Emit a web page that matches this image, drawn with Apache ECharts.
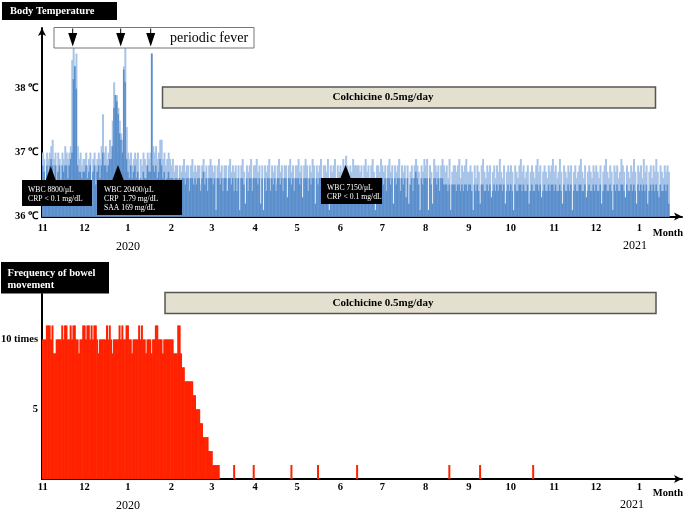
<!DOCTYPE html>
<html><head><meta charset="utf-8">
<script src="https://cdn.jsdelivr.net/npm/echarts@6/dist/echarts.min.js"></script>
<style>html,body{margin:0;padding:0;background:#fff}#c{width:685px;height:511px}</style>
</head><body><div id="c"></div>
<script>
// ---------- axis labels ----------
const monthLabels = ['11','12','1','2','3','4','5','6','7','8','9','10','11','12','1'];
const monthDays   = [30,31,31,29,31,30,31,30,31,31,30,31,30,31,31];
const tempTickLabels  = {36:'36 ℃', 37:'37 ℃', 38:'38 ℃'};
const bowelTickLabels = {5:'5', 10:'10 times'};

// ---------- body temperature (daily max = light, daily min = dark), °C ----------
const tMax_2019_11 = [37.0,36.9,36.2,37.0,36.9,37.0,37.1,37.2,36.9,37.0,36.8,37.0,36.9,36.6,37.0,36.9,37.1,37.0,36.9,37.0,37.1,38.45,38.65,38.35,38.55,37.1,36.9,37.0,36.8,36.9];
const tMin_2019_11 = [36.8,36.7,36.2,36.8,36.6,36.8,36.9,36.8,36.6,36.8,36.5,36.7,36.8,36.4,36.8,36.7,36.8,36.8,36.6,36.8,36.9,37.0,38.15,38.35,38.0,36.8,36.7,36.7,36.6,36.7];
const tMax_2019_12 = [36.9,37.0,36.8,36.9,37.0,36.2,36.9,37.0,36.8,36.9,37.0,36.9,37.1,37.6,37.0,37.1,36.9,37.0,37.2,37.1,37.5,38.1,37.9,37.9,37.7,37.5,37.3,37.2,38.35,38.65,37.4];
const tMin_2019_12 = [36.7,36.8,36.6,36.7,36.8,36.2,36.7,36.8,36.5,36.7,36.8,36.6,36.8,37.0,36.8,36.8,36.7,36.8,36.9,36.9,37.1,37.7,37.9,37.8,37.6,37.3,37.2,37.0,38.3,38.1,36.9];
const tMax_2020_01 = [37.0,36.9,37.0,36.8,36.9,37.0,36.9,37.0,36.3,36.9,36.8,37.0,36.9,36.8,37.0,36.9,37.0,38.55,37.1,37.0,37.1,36.9,37.0,37.2,37.2,36.9,37.0,36.8,36.9,37.0,36.9];
const tMin_2020_01 = [36.7,36.6,36.8,36.6,36.7,36.8,36.6,36.7,36.3,36.6,36.5,36.7,36.6,36.6,36.8,36.7,36.7,38.55,36.8,36.7,36.8,36.6,36.7,36.9,36.8,36.6,36.7,36.5,36.6,36.7,36.6];
const tMax_2020_02 = [36.8,36.9,36.7,36.8,36.8,36.6,36.8,36.7,36.8,36.9,36.7,36.8,36.8,36.6,36.8,36.9,36.7,36.8,36.7,36.8,36.8,36.5,36.8,36.9,36.7,36.8,36.6,36.8,36.9];
const tMin_2020_02 = [36.6,36.6,36.5,36.6,36.6,36.4,36.6,36.5,36.6,36.6,36.5,36.6,36.6,36.4,36.6,36.6,36.5,36.6,36.5,36.6,36.6,36.4,36.6,36.7,36.5,36.6,36.4,36.6,36.6];
const tMax_2020_03 = [36.8,36.7,36.8,36.1,36.8,36.9,36.7,36.8,36.6,36.8,36.8,36.4,36.8,36.9,36.7,36.8,36.7,36.8,36.6,36.8,36.1,36.8,36.9,36.7,36.2,36.8,36.7,36.8,36.9,36.6,36.8];
const tMin_2020_03 = [36.6,36.5,36.6,36.1,36.6,36.6,36.5,36.6,36.4,36.6,36.6,36.4,36.6,36.6,36.5,36.6,36.4,36.6,36.4,36.6,36.1,36.6,36.6,36.5,36.2,36.6,36.4,36.6,36.6,36.4,36.6];
const tMax_2020_04 = [36.8,36.9,36.7,36.8,36.2,36.8,36.1,36.8,36.7,36.8,36.9,36.6,36.8,36.7,36.8,36.5,36.8,36.9,36.7,36.8,36.6,36.8,36.8,36.3,36.8,36.9,36.7,36.8,36.6,36.8];
const tMin_2020_04 = [36.6,36.6,36.5,36.6,36.2,36.6,36.1,36.6,36.4,36.6,36.6,36.4,36.6,36.5,36.6,36.4,36.6,36.6,36.5,36.6,36.4,36.6,36.6,36.3,36.6,36.6,36.5,36.6,36.4,36.6];
const tMax_2020_05 = [36.8,36.9,36.7,36.8,36.3,36.8,36.9,36.8,36.6,36.8,36.7,36.9,36.8,36.2,36.8,36.7,36.8,36.9,36.6,36.8,36.8,36.7,36.9,36.1,36.8,36.7,36.8,36.9,36.6,36.8,36.7];
const tMin_2020_05 = [36.6,36.6,36.5,36.6,36.3,36.6,36.6,36.6,36.4,36.6,36.5,36.6,36.6,36.2,36.6,36.5,36.6,36.6,36.4,36.6,36.6,36.5,36.6,36.1,36.6,36.5,36.6,36.6,36.4,36.6,36.5];
const tMax_2020_06 = [36.8,36.7,36.9,36.8,36.95,36.8,36.2,36.8,36.7,36.9,36.8,36.8,36.8,36.8,36.7,36.8,36.3,36.8,36.9,36.7,36.8,36.6,36.8,36.9,36.7,36.1,36.8,36.8,36.7,36.9];
const tMin_2020_06 = [36.6,36.5,36.6,36.6,36.7,36.6,36.2,36.6,36.5,36.6,36.6,36.6,36.6,36.6,36.5,36.6,36.3,36.6,36.6,36.5,36.6,36.4,36.6,36.6,36.5,36.1,36.6,36.6,36.5,36.6];
const tMax_2020_07 = [36.8,36.7,36.8,36.6,36.8,36.9,36.7,36.8,36.2,36.8,36.7,36.8,36.9,36.6,36.8,36.7,36.8,36.3,36.8,36.2,36.7,36.8,36.6,36.8,36.9,36.8,36.7,36.1,36.8,36.7,36.9];
const tMin_2020_07 = [36.6,36.5,36.6,36.4,36.6,36.6,36.5,36.6,36.2,36.6,36.5,36.6,36.6,36.4,36.6,36.5,36.6,36.3,36.6,36.2,36.5,36.6,36.4,36.6,36.7,36.6,36.5,36.1,36.6,36.5,36.6];
const tMax_2020_08 = [36.8,36.9,36.1,36.8,36.7,36.2,36.9,36.8,36.7,36.8,36.6,36.8,36.9,36.8,36.7,36.8,36.6,36.9,36.1,36.7,36.8,36.8,36.7,36.8,36.9,36.6,36.8,36.7,36.8,36.9,36.7];
const tMin_2020_08 = [36.6,36.6,36.1,36.6,36.5,36.2,36.6,36.6,36.5,36.6,36.4,36.6,36.6,36.5,36.5,36.5,36.4,36.5,36.1,36.5,36.5,36.5,36.4,36.5,36.5,36.4,36.5,36.4,36.5,36.5,36.4];
const tMax_2020_09 = [36.7,36.8,36.7,36.1,36.8,36.6,36.8,36.7,36.2,36.8,36.9,36.7,36.6,36.8,36.7,36.8,36.3,36.7,36.8,36.6,36.8,36.7,36.9,36.7,36.6,36.8,36.2,36.7,36.8,36.7];
const tMin_2020_09 = [36.5,36.5,36.4,36.1,36.5,36.4,36.5,36.4,36.2,36.5,36.5,36.4,36.4,36.5,36.4,36.5,36.3,36.4,36.5,36.4,36.5,36.4,36.5,36.5,36.4,36.5,36.2,36.4,36.5,36.4];
const tMax_2020_10 = [36.8,36.7,36.1,36.8,36.7,36.6,36.8,36.9,36.7,36.8,36.6,36.7,36.8,36.2,36.7,36.8,36.7,36.6,36.8,36.9,36.7,36.8,36.3,36.7,36.8,36.7,36.6,36.8,36.7,36.8,36.9];
const tMin_2020_10 = [36.5,36.4,36.1,36.5,36.4,36.4,36.5,36.5,36.4,36.5,36.4,36.4,36.5,36.2,36.4,36.5,36.4,36.4,36.5,36.5,36.4,36.5,36.3,36.4,36.5,36.4,36.4,36.5,36.4,36.5,36.5];
const tMax_2020_11 = [36.7,36.8,36.6,36.7,36.9,36.7,36.2,36.8,36.7,36.6,36.8,36.7,36.8,36.1,36.7,36.8,36.6,36.7,36.8,36.9,36.7,36.6,36.8,36.3,36.7,36.8,36.7,36.6,36.8,36.7];
const tMin_2020_11 = [36.4,36.5,36.4,36.4,36.5,36.4,36.2,36.5,36.4,36.4,36.5,36.4,36.5,36.1,36.4,36.5,36.4,36.4,36.5,36.5,36.4,36.4,36.5,36.3,36.4,36.5,36.4,36.4,36.5,36.4];
const tMax_2020_12 = [36.8,36.7,36.6,36.8,36.2,36.7,36.8,36.9,36.7,36.6,36.8,36.7,36.1,36.8,36.7,36.8,36.6,36.7,36.9,36.8,36.7,36.3,36.8,36.7,36.6,36.8,36.7,36.9,36.7,36.2,36.8];
const tMin_2020_12 = [36.5,36.4,36.4,36.5,36.2,36.4,36.5,36.5,36.4,36.4,36.5,36.4,36.1,36.5,36.4,36.5,36.4,36.4,36.5,36.5,36.4,36.3,36.5,36.4,36.4,36.5,36.4,36.5,36.4,36.2,36.5];
const tMax_2021_01 = [36.7,36.8,36.6,36.9,36.7,36.8,36.2,36.7,36.8,36.6,36.8,36.7,36.9,36.7,36.3,36.8,36.7,36.6,36.8,36.7,36.8,36.7];
const tMin_2021_01 = [36.4,36.5,36.4,36.5,36.4,36.5,36.2,36.4,36.5,36.4,36.5,36.4,36.5,36.4,36.3,36.5,36.4,36.4,36.5,36.4,36.5,36.2];

// ---------- bowel movements per day ----------
const bowel_2019_11 = [10,10,10,11,11,11,10,11,9,9,10,10,10,10,11,10,11,11,10,10,11,10,11,11,10,10,9,10,10,11];
const bowel_2019_12 = [11,10,11,11,10,11,10,11,11,10,9,10,10,10,10,10,11,10,11,10,9,10,10,10,10,11,10,11,10,10,11];
const bowel_2020_01 = [11,10,10,9,10,10,10,10,11,10,11,10,10,9,10,10,10,9,10,10,11,11,10,10,10,9,10,10,10,10,10];
const bowel_2020_02 = [10,10,9,9,9,11,11,9,8,8,7,7,7,7,7,7,6,6,5,5,5,4,4,3,3,3,3,2,2];
const bowel_2020_03_early = [2,1,1,1,1,1];
const bowelSporadicDays = [137,151,178,197,225,291,313,351]; // day index from 2019-11-01, 1 time each

// ---------- build category axis (one category per day) ----------
const categories = []; const labelAt = {};
monthDays.forEach((n, m) => { for (let d = 0; d < n; d++) { if (d === 0) labelAt[categories.length] = monthLabels[m]; categories.push('m' + m + 'd' + (d + 1)); } });
const tempMax = [].concat(tMax_2019_11,tMax_2019_12,tMax_2020_01,tMax_2020_02,tMax_2020_03,tMax_2020_04,tMax_2020_05,tMax_2020_06,tMax_2020_07,tMax_2020_08,tMax_2020_09,tMax_2020_10,tMax_2020_11,tMax_2020_12,tMax_2021_01);
const tempMin = [].concat(tMin_2019_11,tMin_2019_12,tMin_2020_01,tMin_2020_02,tMin_2020_03,tMin_2020_04,tMin_2020_05,tMin_2020_06,tMin_2020_07,tMin_2020_08,tMin_2020_09,tMin_2020_10,tMin_2020_11,tMin_2020_12,tMin_2021_01);
const bowel = new Array(categories.length).fill(null);
[].concat(bowel_2019_11,bowel_2019_12,bowel_2020_01,bowel_2020_02,bowel_2020_03_early).forEach((v,i)=>{ bowel[i]=v; });
bowelSporadicDays.forEach(d => { bowel[d] = 1; });

const SERIF = '"Liberation Serif","Times New Roman",serif';
const xAxisCommon = (grid, margin) => ({
  type:'category', gridIndex:grid, data:categories, boundaryGap:true,
  axisLine:{show:true, lineStyle:{color:'#000', width:2}, symbol:['none','arrow'], symbolSize:[6,8]},
  axisTick:{show:false}, splitLine:{show:false},
  axisLabel:{interval:(i)=> (i in labelAt), formatter:(v,i)=> labelAt[i] || '', color:'#000', fontFamily:SERIF, fontWeight:'bold', fontSize:10.5, margin:margin}
});

const chart = echarts.init(document.getElementById('c'), null, {renderer:'canvas'});
const textC = (text, x, y, font, fill) => ({type:'text', z:100, style:{text, x, y, font, fill: fill||'#000', textAlign:'center', align:'center', textVerticalAlign:'middle', verticalAlign:'middle'}});
const textL = (text, x, y, font, fill) => ({type:'text', z:100, style:{text, x, y, font, fill: fill||'#000', textAlign:'left', align:'left', textVerticalAlign:'middle', verticalAlign:'middle'}});
const rect = (x,y,w,h,fill,stroke,lw) => ({type:'rect', z:99, shape:{x,y,width:w,height:h}, style:{fill, stroke: stroke||null, lineWidth: lw||0}});
const poly = (pts) => ({type:'polygon', z:99, shape:{points:pts}, style:{fill:'#000'}});
const fTitle = 'bold 10.5px ' + SERIF;
const fNote = '7.7px ' + SERIF;
const fever = (cx) => [
  {type:'line', z:100, shape:{x1:cx,y1:28.5,x2:cx,y2:34}, style:{stroke:'#000', lineWidth:1}},
  poly([[cx-4.5,33],[cx+4.5,33],[cx,46.5]])
];

chart.setOption({
  animation:false,
  backgroundColor:'#fff',
  grid:[
    {left:42, right:3, top:28, bottom:294.5, outerBoundsMode:'none', containLabel:false},
    {left:42, right:3, top:294, bottom:32, outerBoundsMode:'none', containLabel:false}
  ],
  xAxis:[ xAxisCommon(0, 6), xAxisCommon(1, 3) ],
  yAxis:[
    {type:'value', gridIndex:0, min:36, max:38.95, interval:1,
     axisLine:{show:true, lineStyle:{color:'#000', width:2}, symbol:['none','arrow'], symbolSize:[6,8]},
     axisTick:{show:false}, splitLine:{show:false},
     axisLabel:{formatter:(v)=> tempTickLabels[v] || '', showMaxLabel:false, color:'#000', fontFamily:SERIF, fontWeight:'bold', fontSize:10.5, margin:4}},
    {type:'value', gridIndex:1, min:0, max:13.25, interval:5,
     axisLine:{show:true, lineStyle:{color:'#000', width:2}},
     axisTick:{show:false}, splitLine:{show:false},
     axisLabel:{formatter:(v)=> bowelTickLabels[v] || '', showMaxLabel:false, color:'#000', fontFamily:SERIF, fontWeight:'bold', fontSize:10.5, margin:4}}
  ],
  series:[
    {type:'bar', name:'max', xAxisIndex:0, yAxisIndex:0, data:tempMax, barWidth:2, barGap:'-100%', clip:true, silent:true, itemStyle:{color:'#a7c4e8'}},
    {type:'bar', name:'min', xAxisIndex:0, yAxisIndex:0, data:tempMin, barWidth:1.6, barGap:'-100%', clip:true, silent:true, itemStyle:{color:'#5b8fcc'}},
    {type:'bar', name:'bowel', xAxisIndex:1, yAxisIndex:1, data:bowel, barWidth:2, clip:true, silent:true, itemStyle:{color:'#ff2200'}}
  ],
  graphic:{elements:[
    rect(2,2,115,18,'#000'),
    textL('Body Temperature', 10, 11.5, fTitle, '#fff'),
    rect(54,27.5,200,20.5,'#fff','#777',1),
    textL('periodic fever', 170, 38, '14px ' + SERIF),
    ...fever(72.7), ...fever(120.7), ...fever(150.7),
    rect(162.5,87,493,21,'#e4e0cf','#555',1.5),
    textC('Colchicine 0.5mg/day', 383, 97.5, 'bold 11px ' + SERIF),
    rect(22,180,70,26,'#000'), poly([[45.5,181],[56,181],[50.7,166]]),
    textL('WBC 8800/μL', 28, 189.5, fNote, '#fff'), textL('CRP < 0.1 mg/dL', 28, 198.5, fNote, '#fff'),
    rect(97,180,85,35,'#000'), poly([[112,181],[124,181],[118,165]]),
    textL('WBC 20400/μL', 104, 189.5, fNote, '#fff'), textL('CRP  1.79 mg/dL', 104, 198.5, fNote, '#fff'), textL('SAA 169 mg/dL', 104, 207.5, fNote, '#fff'),
    rect(321,178,61,26,'#000'), poly([[340,179],[351,179],[345.7,165]]),
    textL('WBC 7150/μL', 327, 187.5, fNote, '#fff'), textL('CRP < 0.1 mg/dL', 327, 196.5, fNote, '#fff'),
    textC('Month', 668, 233, fTitle), textC('Month', 668, 493, fTitle),
    textC('2020', 128, 247, '12px ' + SERIF), textC('2021', 635, 246, '12px ' + SERIF),
    textC('2020', 128, 506, '12px ' + SERIF), textC('2021', 632, 505, '12px ' + SERIF),
    rect(1,262,108,31.5,'#000'),
    textL('Frequency of bowel', 7.5, 273.5, fTitle, '#fff'),
    textL('movement', 7.5, 285.5, fTitle, '#fff'),
    rect(165,292.5,491,21,'#e4e0cf','#555',1.5),
    textC('Colchicine 0.5mg/day', 383, 303, 'bold 11px ' + SERIF)
  ]}
});
</script></body></html>
